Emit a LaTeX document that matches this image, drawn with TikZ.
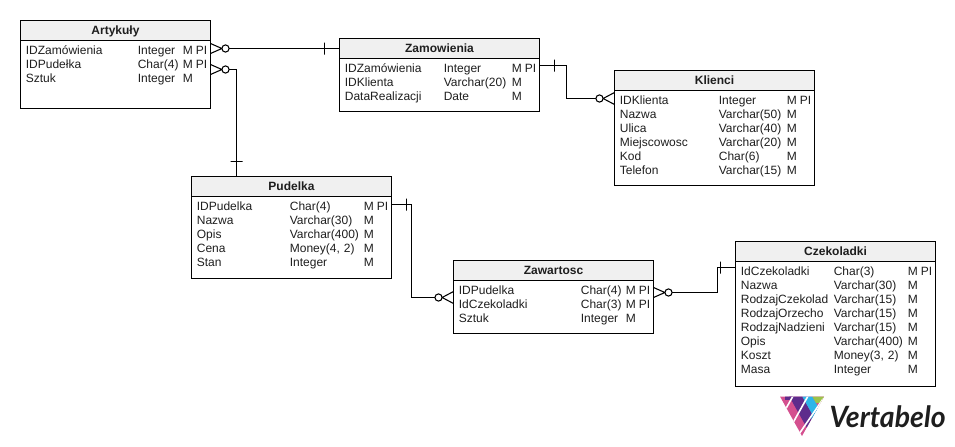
\documentclass[tikz,border=0pt]{standalone}
\usepackage{fontspec}
\setmainfont{Liberation Sans}
\newfontfamily\logofont[FakeStretch=0.97]{Lato}
\usetikzlibrary{calc,positioning}
\setlength{\tabcolsep}{0pt}
\definecolor{headgray}{HTML}{F0F0F0}
\definecolor{inkgray}{HTML}{1E1E1E}
\definecolor{logopink}{HTML}{D4508F}
\definecolor{logopurple}{HTML}{5E2C8C}
\definecolor{logoblue}{HTML}{2DB5E8}
\definecolor{logogreen}{HTML}{9CC34A}
\newenvironment{rowlist}[2]{\begin{tabular}{@{\hspace{4pt}}p{#1}p{#2}p{9.75pt}l@{}}}{\end{tabular}}
\newcommand{\lastrow}[1][2.25pt]{\\[#1]}
\tikzset{tabhead/.style={draw, fill=headgray, anchor=north west, outer sep=0pt, inner sep=0pt, minimum width=150pt, minimum height=15pt, text height=7.5pt, text depth=1.5pt, font=\fontsize{9}{10.5}\selectfont\bfseries},
tabbody/.style={draw, outer sep=0pt, inner xsep=0pt, inner ysep=3pt, text width=150pt, align=left, font=\fontsize{9}{10.5}\selectfont},
ring/.style={draw, circle, inner sep=0pt, minimum size=5.4pt, outer sep=0pt},
vtick/.style={draw, inner sep=0pt, minimum width=0pt, minimum height=9pt, outer sep=0pt},
htick/.style={draw, inner sep=0pt, minimum height=0pt, minimum width=9pt, outer sep=0pt}}

\begin{document}
\begin{tikzpicture}[x=0.75pt, y=-0.75pt, line width=0.8pt, color=black, text=inkgray]
\useasboundingbox (0,0) rectangle (955,446);

\node[tabhead, minimum width=142.5pt] (ArtHead) at (20.5,20.5) {Artykuły};
\node[tabbody, text width=142.5pt, below=0pt of ArtHead] (ArtBody) {\begin{rowlist}{84pt}{33.75pt}
IDZamówienia & Integer & M & PI\\
IDPudełka & Char(4) & M & PI\\
Sztuk & Integer & M & \\
 & & & \lastrow[3pt]
\end{rowlist}};

\node[tabhead] (ZamHead) at (339.5,38.5) {Zamowienia};
\node[tabbody, below=0pt of ZamHead] (ZamBody) {\begin{rowlist}{74.25pt}{51pt}
IDZamówienia & Integer & M & PI\\
IDKlienta & Varchar(20) & M & \\
DataRealizacji & Date & M & \lastrow
\end{rowlist}};

\node[tabhead] (KliHead) at (614.5,70.5) {Klienci};
\node[tabbody, below=0pt of KliHead] (KliBody) {\begin{rowlist}{74.25pt}{51pt}
IDKlienta & Integer & M & PI\\
Nazwa & Varchar(50) & M & \\
Ulica & Varchar(40) & M & \\
Miejscowosc & Varchar(20) & M & \\
Kod & Char(6) & M & \\
Telefon & Varchar(15) & M & \lastrow
\end{rowlist}};

\node[tabhead] (PudHead) at (191.5,176.5) {Pudelka};
\node[tabbody, below=0pt of PudHead] (PudBody) {\begin{rowlist}{69.75pt}{55.5pt}
IDPudelka & Char(4) & M & PI\\
Nazwa & Varchar(30) & M & \\
Opis & Varchar(400) & M & \\
Cena & Money(4, 2) & M & \\
Stan & Integer & M & \lastrow[3pt]
\end{rowlist}};

\node[tabhead] (ZawHead) at (453.5,260.5) {Zawartosc};
\node[tabbody, below=0pt of ZawHead] (ZawBody) {\begin{rowlist}{91.5pt}{33.75pt}
IDPudelka & Char(4) & M & PI\\
IdCzekoladki & Char(3) & M & PI\\
Sztuk & Integer & M & \lastrow
\end{rowlist}};

\node[tabhead] (CzeHead) at (735.5,241.5) {Czekoladki};
\node[tabbody, below=0pt of CzeHead] (CzeBody) {\begin{rowlist}{69.75pt}{55.5pt}
IdCzekoladki & Char(3) & M & PI\\
Nazwa & Varchar(30) & M & \\
RodzajCzekolad & Varchar(15) & M & \\
RodzajOrzecho & Varchar(15) & M & \\
RodzajNadzieni & Varchar(15) & M & \\
Opis & Varchar(400) & M & \\
Koszt & Money(3, 2) & M & \\
Masa & Integer & M & \lastrow[3.75pt]
\end{rowlist}};

% connector ends on the tables
\coordinate (ArtA) at ($(ArtHead.north east)+(0,28)$);
\coordinate (ArtB) at ($(ArtHead.north east)+(0,49)$);
\coordinate (ZamA) at ($(ZamHead.north west)+(0,10)$);
\coordinate (ZamKey) at ($(ZamHead.north east)+(0,27)$);
\coordinate (KliA) at ($(KliHead.north west)+(0,28)$);
\coordinate (PudTop) at ($(PudHead.north west)+(45,0)$);
\coordinate (PudKey) at ($(PudHead.north east)+(0,28)$);
\coordinate (ZawL) at ($(ZawHead.north west)+(0,37)$);
\coordinate (ZawR) at ($(ZawHead.north east)+(0,32)$);
\coordinate (CzeA) at ($(CzeHead.north west)+(0,26)$);

\node[ring] (ArtRingA) at ($(ArtA)+(15,0)$) {};
\node[ring] (ArtRingB) at ($(ArtB)+(15,0)$) {};
\node[ring] (KliRing) at ($(KliA)+(-15,0)$) {};
\node[ring] (ZawRingL) at ($(ZawL)+(-15,0)$) {};
\node[ring] (ZawRingR) at ($(ZawR)+(15,0)$) {};

\draw (ArtRingA.east) -- (ZamA);
\draw (ArtRingB.east) -| (PudTop);
\draw (ZamKey) -- ++(27,0) |- (KliRing.west);
\draw (PudKey) -- ++(20,0) |- (ZawRingL.west);
\draw (ZawRingR.east) -- ++(45,0) |- (CzeA);

\draw (ArtRingA.west) -- ($(ArtA)+(0,-5)$) (ArtRingA.west) -- ($(ArtA)+(0,5)$);
\draw (ArtRingB.west) -- ($(ArtB)+(0,-5)$) (ArtRingB.west) -- ($(ArtB)+(0,5)$);
\draw (KliRing.east) -- ($(KliA)+(0,-6)$) (KliRing.east) -- ($(KliA)+(0,6)$);
\draw (ZawRingL.east) -- ($(ZawL)+(0,-6)$) (ZawRingL.east) -- ($(ZawL)+(0,6)$);
\draw (ZawRingR.west) -- ($(ZawR)+(0,-5)$) (ZawRingR.west) -- ($(ZawR)+(0,5)$);

\node[vtick] (TickA) at ($(ZamA)+(-15,0)$) {};
\node[htick] (TickB) at ($(PudTop)+(0,-15)$) {};
\node[vtick] (TickC) at ($(ZamKey)+(15,0)$) {};
\node[vtick] (TickD) at ($(PudKey)+(15,0)$) {};
\node[vtick] (TickE) at ($(CzeA)+(-15,0)$) {};

% logo
\begin{scope}
\clip (780,396.5) -- (824,396.5) -- (802,436) -- cycle;
\fill[logopink] (780,396) rectangle (824,437);
\fill[logopurple] (789,396) -- (802,396) -- (825,437) -- (812,437) -- cycle;
\fill[logopurple] (785,396) rectangle (793,400);
\fill[logoblue] (802,396) -- (812,396) -- (835,437) -- (825,437) -- cycle;
\fill[logoblue] (812,410) -- (830,410) -- (810,437) -- cycle;
\fill[logogreen] (812,396) -- (825,396) -- (825,403) -- (816,403) -- cycle;
\draw[white, line width=1.2pt] (793,396) -- (770,437) (808,396) -- (785,437) (823,399) -- (797,437);
\end{scope}
\node[anchor=base west, inner sep=0pt, font=\logofont\fontsize{22}{22}\selectfont\bfseries\itshape] (LogoText) at (829,427) {Vertabelo};
\end{tikzpicture}
\end{document}
